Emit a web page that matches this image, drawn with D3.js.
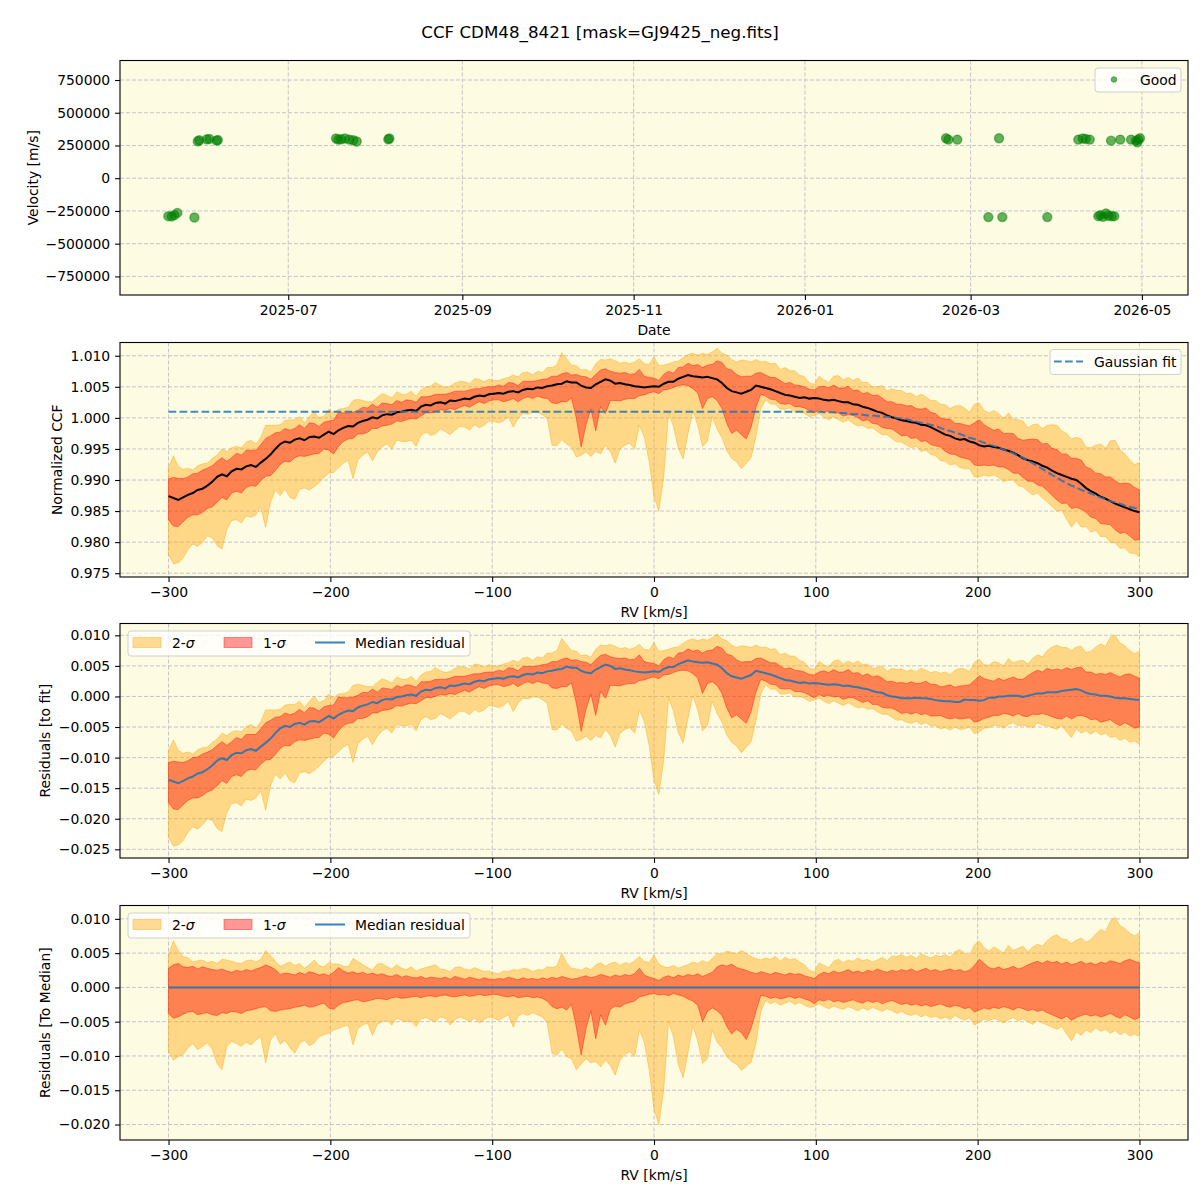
<!DOCTYPE html>
<html>
<head>
<meta charset="utf-8">
<script src="https://cdn.jsdelivr.net/npm/d3@7"></script>
<style>
  body { margin: 0; background: #fff; }
</style>
</head>
<body>
<div id="chart"></div>
<script>
// ---- observations (top panel) ----
const obsDates = [
  '2025-05-19T07:00', '2025-05-20T12:00', '2025-05-21T11:00', '2025-05-22T12:00', '2025-05-28T14:00',
  '2025-05-29T19:00', '2025-05-30T08:00', '2025-06-02T00:00', '2025-06-02T22:00', '2025-06-05T11:00',
  '2025-06-05T22:00', '2025-07-18T00:30', '2025-07-18T20:00', '2025-07-19T19:00', '2025-07-21T05:00',
  '2025-07-22T18:00', '2025-07-24T04:00', '2025-07-25T09:00', '2025-08-05T15:00', '2025-08-06T00:00',
  '2026-02-20T06:00', '2026-02-21T02:00', '2026-02-24T06:30', '2026-03-07T07:30', '2026-03-11T03:00',
  '2026-03-12T07:00', '2026-03-28T07:30', '2026-04-08T08:30', '2026-04-09T22:00', '2026-04-11T00:00',
  '2026-04-12T10:00', '2026-04-15T11:30', '2026-04-16T04:30', '2026-04-17T03:30', '2026-04-18T05:00',
  '2026-04-19T01:00', '2026-04-20T00:00', '2026-04-20T06:00', '2026-04-21T04:00', '2026-04-23T07:30',
  '2026-04-27T03:00', '2026-04-28T21:30', '2026-04-29T08:30', '2026-04-29T17:00', '2026-04-30T07:30'
];
const obsVelocity = [
  -290000, -292000, -282000, -265000, -300000,
  282000, 290000, 297000, 300000, 287000,
  292000, 303000, 295000, 297000, 303000,
  295000, 290000, 280000, 297000, 303000,
  305000, 295000, 295000, -297000, 305000,
  -297000, -297000, 295000, 303000, 300000,
  295000, -290000, -282000, -295000, -269000,
  -287000, 287000, -290000, -290000, 295000,
  295000, 287000, 274000, 295000, 305000
];

// ---- CCF profile, RV grid in km/s ----
const rv = d3.range(-300, 301, 3);

const ccfMedian = [
  0.9874, 0.9871, 0.9868, 0.9872, 0.9876, 0.9879, 0.9884, 0.9886, 0.9891, 0.9897,
  0.9905, 0.9909, 0.9906, 0.9914, 0.9918, 0.9917, 0.9922, 0.9924, 0.9921, 0.9928,
  0.9934, 0.9941, 0.9950, 0.9958, 0.9962, 0.9960, 0.9965, 0.9967, 0.9964, 0.9969,
  0.9970, 0.9968, 0.9973, 0.9978, 0.9974, 0.9980, 0.9984, 0.9987, 0.9986, 0.9992,
  0.9995, 0.9997, 1.0001, 0.9999, 1.0004, 1.0006, 1.0005, 1.0009, 1.0010, 1.0012,
  1.0013, 1.0011, 1.0018, 1.0021, 1.0020, 1.0024, 1.0025, 1.0023, 1.0028, 1.0027,
  1.0029, 1.0031, 1.0030, 1.0034, 1.0036, 1.0035, 1.0038, 1.0039, 1.0040, 1.0039,
  1.0042, 1.0043, 1.0041, 1.0045, 1.0047, 1.0046, 1.0049, 1.0048, 1.0051, 1.0052,
  1.0054, 1.0055, 1.0059, 1.0057, 1.0057, 1.0052, 1.0049, 1.0048, 1.0054, 1.0058,
  1.0062, 1.0060, 1.0055, 1.0056, 1.0054, 1.0053, 1.0051, 1.0050, 1.0049, 1.0050,
  1.0051, 1.0050, 1.0055, 1.0058, 1.0058, 1.0063, 1.0066, 1.0069, 1.0067, 1.0066,
  1.0065, 1.0066, 1.0064, 1.0062, 1.0056, 1.0048, 1.0043, 1.0041, 1.0039, 1.0042,
  1.0045, 1.0052, 1.0050, 1.0048, 1.0046, 1.0043, 1.0040, 1.0037, 1.0036, 1.0034,
  1.0032, 1.0033, 1.0031, 1.0032, 1.0031, 1.0029, 1.0028, 1.0029, 1.0027, 1.0025,
  1.0025, 1.0022, 1.0021, 1.0018, 1.0016, 1.0013, 1.0010, 1.0008, 1.0004, 1.0001,
  0.9999, 0.9996, 0.9995, 0.9993, 0.9992, 0.9989, 0.9988, 0.9985, 0.9981, 0.9977,
  0.9973, 0.9971, 0.9967, 0.9965, 0.9966, 0.9962, 0.9960, 0.9956, 0.9954, 0.9955,
  0.9953, 0.9952, 0.9949, 0.9947, 0.9944, 0.9940, 0.9935, 0.9932, 0.9930, 0.9927,
  0.9923, 0.9920, 0.9915, 0.9911, 0.9908, 0.9905, 0.9902, 0.9900, 0.9894, 0.9887,
  0.9882, 0.9878, 0.9873, 0.9870, 0.9866, 0.9862, 0.9859, 0.9856, 0.9853, 0.9850,
  0.9848
];

const ccfFit = [
  1.0010, 1.0010, 1.0010, 1.0010, 1.0010, 1.0010, 1.0010, 1.0010, 1.0010, 1.0010,
  1.0010, 1.0010, 1.0010, 1.0010, 1.0010, 1.0010, 1.0010, 1.0010, 1.0010, 1.0010,
  1.0010, 1.0010, 1.0010, 1.0010, 1.0010, 1.0010, 1.0010, 1.0010, 1.0010, 1.0010,
  1.0010, 1.0010, 1.0010, 1.0010, 1.0010, 1.0010, 1.0010, 1.0010, 1.0010, 1.0010,
  1.0010, 1.0010, 1.0010, 1.0010, 1.0010, 1.0010, 1.0010, 1.0010, 1.0010, 1.0010,
  1.0010, 1.0010, 1.0010, 1.0010, 1.0010, 1.0010, 1.0010, 1.0010, 1.0010, 1.0010,
  1.0010, 1.0010, 1.0010, 1.0010, 1.0010, 1.0010, 1.0010, 1.0010, 1.0010, 1.0010,
  1.0010, 1.0010, 1.0010, 1.0010, 1.0010, 1.0010, 1.0010, 1.0010, 1.0010, 1.0010,
  1.0010, 1.0010, 1.0010, 1.0010, 1.0010, 1.0010, 1.0010, 1.0010, 1.0010, 1.0010,
  1.0010, 1.0010, 1.0010, 1.0010, 1.0010, 1.0010, 1.0010, 1.0010, 1.0010, 1.0010,
  1.0010, 1.0010, 1.0010, 1.0010, 1.0010, 1.0010, 1.0010, 1.0010, 1.0010, 1.0010,
  1.0010, 1.0010, 1.0010, 1.0010, 1.0010, 1.0010, 1.0010, 1.0010, 1.0010, 1.0010,
  1.0010, 1.0010, 1.0010, 1.0010, 1.0010, 1.0010, 1.0010, 1.0010, 1.0010, 1.0010,
  1.0010, 1.0010, 1.0010, 1.0010,
  1.0010, 1.0009, 1.0009, 1.0009, 1.0008, 1.0008, 1.0007, 1.0006, 1.0006, 1.0005,
  1.0004, 1.0004, 1.0003, 1.0002, 1.0002, 1.0001, 1.0000, 0.9999, 0.9998, 0.9996,
  0.9994, 0.9992, 0.9991, 0.9989, 0.9987, 0.9984, 0.9981, 0.9979, 0.9976, 0.9974,
  0.9971, 0.9968, 0.9966, 0.9963, 0.9960, 0.9957, 0.9955, 0.9952, 0.9949, 0.9946,
  0.9943, 0.9939, 0.9936, 0.9931, 0.9927, 0.9922, 0.9918, 0.9913, 0.9908, 0.9904,
  0.9899, 0.9895, 0.9891, 0.9888, 0.9884, 0.9881, 0.9878, 0.9875, 0.9872, 0.9869,
  0.9866, 0.9864, 0.9862, 0.9859, 0.9857, 0.9855, 0.9854
];

// band edges, as offsets from the median (bottom panel)
const sig2Upper = [
  0.0047, 0.0068, 0.0054, 0.0045, 0.0043, 0.0037, 0.0039, 0.0040, 0.0036, 0.0038,
  0.0035, 0.0041, 0.0040, 0.0038, 0.0036, 0.0035, 0.0039, 0.0040, 0.0037, 0.0041,
  0.0054, 0.0047, 0.0038, 0.0031, 0.0034, 0.0037, 0.0032, 0.0035, 0.0028, 0.0033,
  0.0040, 0.0032, 0.0030, 0.0036, 0.0034, 0.0034, 0.0031, 0.0030, 0.0042, 0.0038,
  0.0033, 0.0029, 0.0025, 0.0034, 0.0035, 0.0030, 0.0027, 0.0033, 0.0028, 0.0026,
  0.0030, 0.0024, 0.0027, 0.0029, 0.0031, 0.0033, 0.0027, 0.0026, 0.0023, 0.0029,
  0.0030, 0.0027, 0.0025, 0.0029, 0.0026, 0.0023, 0.0024, 0.0021, 0.0020, 0.0024,
  0.0023, 0.0026, 0.0025, 0.0028, 0.0027, 0.0023, 0.0026, 0.0025, 0.0030, 0.0029,
  0.0031, 0.0050, 0.0036, 0.0028, 0.0027, 0.0025, 0.0029, 0.0026, 0.0033, 0.0036,
  0.0031, 0.0035, 0.0037, 0.0032, 0.0036, 0.0034, 0.0039, 0.0045, 0.0038, 0.0036,
  0.0047, 0.0034, 0.0030, 0.0029, 0.0032, 0.0028, 0.0031, 0.0033, 0.0037, 0.0035,
  0.0039, 0.0036, 0.0042, 0.0050, 0.0048, 0.0053, 0.0051, 0.0049, 0.0054, 0.0050,
  0.0045, 0.0042, 0.0040, 0.0043, 0.0041, 0.0045, 0.0038, 0.0044, 0.0040, 0.0042,
  0.0037, 0.0033, 0.0025, 0.0022, 0.0036, 0.0032, 0.0029, 0.0038, 0.0041, 0.0036,
  0.0040, 0.0038, 0.0043, 0.0039, 0.0041, 0.0037, 0.0040, 0.0044, 0.0039, 0.0046,
  0.0045, 0.0048, 0.0044, 0.0047, 0.0042, 0.0049, 0.0046, 0.0043, 0.0047, 0.0045,
  0.0048, 0.0044, 0.0052, 0.0055, 0.0050, 0.0047, 0.0062, 0.0068, 0.0058, 0.0053,
  0.0059, 0.0055, 0.0050, 0.0061, 0.0054, 0.0057, 0.0060, 0.0052, 0.0059, 0.0063,
  0.0060, 0.0068, 0.0074, 0.0077, 0.0071, 0.0070, 0.0064, 0.0069, 0.0072, 0.0066,
  0.0070, 0.0078, 0.0085, 0.0081, 0.0097, 0.0102, 0.0090, 0.0086, 0.0079, 0.0075,
  0.0080
];
const sig1Upper = [
  0.0028, 0.0033, 0.0035, 0.0030, 0.0029, 0.0031, 0.0027, 0.0030, 0.0028, 0.0026,
  0.0025, 0.0027, 0.0024, 0.0022, 0.0025, 0.0023, 0.0026, 0.0024, 0.0027, 0.0029,
  0.0033, 0.0030, 0.0026, 0.0019, 0.0021, 0.0020, 0.0018, 0.0022, 0.0019, 0.0023,
  0.0021, 0.0018, 0.0020, 0.0017, 0.0022, 0.0029, 0.0024, 0.0021, 0.0023, 0.0020,
  0.0022, 0.0019, 0.0021, 0.0018, 0.0020, 0.0017, 0.0016, 0.0019, 0.0015, 0.0017,
  0.0015, 0.0014, 0.0016, 0.0013, 0.0015, 0.0014, 0.0013, 0.0015, 0.0012, 0.0016,
  0.0014, 0.0012, 0.0015, 0.0013, 0.0011, 0.0014, 0.0012, 0.0011, 0.0013, 0.0012,
  0.0015, 0.0013, 0.0011, 0.0014, 0.0012, 0.0013, 0.0011, 0.0014, 0.0012, 0.0015,
  0.0013, 0.0016, 0.0014, 0.0012, 0.0013, 0.0015, 0.0017, 0.0014, 0.0016, 0.0019,
  0.0017, 0.0015, 0.0018, 0.0016, 0.0019, 0.0017, 0.0020, 0.0028, 0.0018, 0.0015,
  0.0013, 0.0010, 0.0015, 0.0017, 0.0014, 0.0018, 0.0016, 0.0019, 0.0017, 0.0020,
  0.0016, 0.0019, 0.0022, 0.0030, 0.0033, 0.0031, 0.0034, 0.0029, 0.0027, 0.0025,
  0.0022, 0.0020, 0.0023, 0.0021, 0.0019, 0.0022, 0.0020, 0.0018, 0.0021, 0.0019,
  0.0020, 0.0017, 0.0015, 0.0013, 0.0019, 0.0022, 0.0020, 0.0024, 0.0021, 0.0023,
  0.0026, 0.0022, 0.0024, 0.0021, 0.0025, 0.0023, 0.0027, 0.0024, 0.0022, 0.0025,
  0.0023, 0.0026, 0.0024, 0.0027, 0.0023, 0.0025, 0.0028, 0.0024, 0.0026, 0.0023,
  0.0025, 0.0027, 0.0024, 0.0026, 0.0023, 0.0025, 0.0032, 0.0041, 0.0035, 0.0029,
  0.0027, 0.0030, 0.0026, 0.0028, 0.0031, 0.0027, 0.0029, 0.0033, 0.0036, 0.0038,
  0.0035, 0.0039, 0.0036, 0.0038, 0.0034, 0.0037, 0.0033, 0.0035, 0.0038, 0.0034,
  0.0036, 0.0033, 0.0037, 0.0035, 0.0039, 0.0037, 0.0035, 0.0039, 0.0041, 0.0038,
  0.0036
];
const sig1Lower = [
  -0.0038, -0.0045, -0.0043, -0.0039, -0.0036, -0.0035, -0.0040, -0.0038, -0.0037, -0.0040,
  -0.0041, -0.0037, -0.0038, -0.0035, -0.0036, -0.0038, -0.0034, -0.0033, -0.0031, -0.0029,
  -0.0028, -0.0034, -0.0035, -0.0033, -0.0032, -0.0031, -0.0029, -0.0028, -0.0026, -0.0029,
  -0.0028, -0.0025, -0.0023, -0.0030, -0.0032, -0.0026, -0.0022, -0.0021, -0.0019, -0.0018,
  -0.0021, -0.0020, -0.0018, -0.0016, -0.0017, -0.0018, -0.0015, -0.0014, -0.0016, -0.0015,
  -0.0014, -0.0013, -0.0015, -0.0013, -0.0012, -0.0014, -0.0012, -0.0011, -0.0013, -0.0014,
  -0.0012, -0.0011, -0.0013, -0.0012, -0.0010, -0.0012, -0.0011, -0.0010, -0.0011, -0.0013,
  -0.0014, -0.0012, -0.0015, -0.0014, -0.0013, -0.0015, -0.0014, -0.0016, -0.0020, -0.0028,
  -0.0031, -0.0029, -0.0033, -0.0025, -0.0058, -0.0099, -0.0060, -0.0034, -0.0075, -0.0040,
  -0.0055, -0.0032, -0.0027, -0.0029, -0.0024, -0.0022, -0.0020, -0.0014, -0.0012, -0.0010,
  -0.0009, -0.0011, -0.0010, -0.0012, -0.0009, -0.0011, -0.0013, -0.0017, -0.0020, -0.0026,
  -0.0050, -0.0035, -0.0030, -0.0034, -0.0041, -0.0057, -0.0068, -0.0061, -0.0066, -0.0076,
  -0.0060, -0.0035, -0.0012, -0.0013, -0.0016, -0.0014, -0.0017, -0.0015, -0.0013, -0.0016,
  -0.0014, -0.0017, -0.0019, -0.0024, -0.0018, -0.0020, -0.0017, -0.0021, -0.0019, -0.0022,
  -0.0020, -0.0018, -0.0021, -0.0023, -0.0019, -0.0022, -0.0020, -0.0024, -0.0021, -0.0019,
  -0.0022, -0.0025, -0.0023, -0.0026, -0.0024, -0.0027, -0.0025, -0.0028, -0.0026, -0.0024,
  -0.0027, -0.0029, -0.0026, -0.0028, -0.0031, -0.0029, -0.0036, -0.0033, -0.0030, -0.0032,
  -0.0029, -0.0031, -0.0028, -0.0030, -0.0033, -0.0029, -0.0031, -0.0034, -0.0032, -0.0035,
  -0.0033, -0.0037, -0.0040, -0.0043, -0.0046, -0.0042, -0.0048, -0.0044, -0.0041, -0.0039,
  -0.0042, -0.0040, -0.0043, -0.0041, -0.0038, -0.0042, -0.0045, -0.0040, -0.0043, -0.0047,
  -0.0044
];
const sig2Lower = [
  -0.0094, -0.0106, -0.0101, -0.0098, -0.0088, -0.0082, -0.0091, -0.0086, -0.0081, -0.0090,
  -0.0111, -0.0120, -0.0086, -0.0079, -0.0082, -0.0086, -0.0080, -0.0084, -0.0077, -0.0072,
  -0.0110, -0.0077, -0.0067, -0.0083, -0.0077, -0.0088, -0.0096, -0.0082, -0.0077, -0.0085,
  -0.0081, -0.0072, -0.0069, -0.0067, -0.0062, -0.0060, -0.0057, -0.0055, -0.0084, -0.0060,
  -0.0055, -0.0052, -0.0070, -0.0054, -0.0050, -0.0048, -0.0055, -0.0045, -0.0048, -0.0050,
  -0.0049, -0.0057, -0.0046, -0.0044, -0.0048, -0.0050, -0.0043, -0.0045, -0.0055, -0.0047,
  -0.0043, -0.0046, -0.0050, -0.0045, -0.0052, -0.0047, -0.0043, -0.0045, -0.0048, -0.0044,
  -0.0040, -0.0058, -0.0042, -0.0038, -0.0041, -0.0037, -0.0040, -0.0043, -0.0052, -0.0096,
  -0.0099, -0.0090, -0.0101, -0.0104, -0.0120, -0.0112, -0.0104, -0.0110, -0.0108, -0.0116,
  -0.0106, -0.0114, -0.0128, -0.0106, -0.0098, -0.0094, -0.0101, -0.0062, -0.0080, -0.0120,
  -0.0178, -0.0200, -0.0150, -0.0050, -0.0072, -0.0112, -0.0132, -0.0095, -0.0056, -0.0078,
  -0.0111, -0.0104, -0.0062, -0.0080, -0.0088, -0.0101, -0.0108, -0.0112, -0.0121, -0.0115,
  -0.0109, -0.0082, -0.0035, -0.0019, -0.0024, -0.0021, -0.0026, -0.0023, -0.0020, -0.0025,
  -0.0022, -0.0026, -0.0029, -0.0028, -0.0024, -0.0028, -0.0031, -0.0027, -0.0030, -0.0032,
  -0.0028, -0.0031, -0.0034, -0.0030, -0.0033, -0.0029, -0.0032, -0.0035, -0.0031, -0.0034,
  -0.0038, -0.0035, -0.0039, -0.0041, -0.0038, -0.0043, -0.0040, -0.0044, -0.0042, -0.0046,
  -0.0043, -0.0047, -0.0041, -0.0045, -0.0048, -0.0044, -0.0055, -0.0051, -0.0046, -0.0049,
  -0.0045, -0.0048, -0.0052, -0.0047, -0.0044, -0.0049, -0.0046, -0.0050, -0.0054, -0.0048,
  -0.0052, -0.0055, -0.0058, -0.0061, -0.0057, -0.0068, -0.0078, -0.0065, -0.0070, -0.0062,
  -0.0066, -0.0059, -0.0064, -0.0061, -0.0067, -0.0063, -0.0069, -0.0065, -0.0071, -0.0068,
  -0.0072
];

// ---- ticks ----
const dateTicks = ['2025-07', '2025-09', '2025-11', '2026-01', '2026-03', '2026-05'];
const velTicks = [-750000, -500000, -250000, 0, 250000, 500000, 750000];
const rvTicks = [-300, -200, -100, 0, 100, 200, 300];
const ccfTicks = [0.975, 0.980, 0.985, 0.990, 0.995, 1.000, 1.005, 1.010];
const resFitTicks = [-0.025, -0.020, -0.015, -0.010, -0.005, 0.000, 0.005, 0.010];
const resMedTicks = [-0.020, -0.015, -0.010, -0.005, 0.000, 0.005, 0.010];

[ccfMedian, ccfFit, sig2Upper, sig1Upper, sig1Lower, sig2Lower].forEach((a, i) => {
  if (a.length !== rv.length) console.warn('array', i, 'has', a.length, 'values');
});

// ---- layout ----
const W = 1200, H = 1200;
const left = 120, right = 1188;
const FONT = '"DejaVu Sans", sans-serif';
const FS = 13.9;
const axBg = '#fdfbe2';
const gridColor = '#c4c4cc';
const blue = '#1f77b4';

const svg = d3.select('#chart').append('svg')
  .attr('width', W).attr('height', H)
  .style('font-family', FONT);
svg.append('rect').attr('width', W).attr('height', H).attr('fill', '#fff');

svg.append('text')
  .attr('x', 600).attr('y', 38)
  .attr('text-anchor', 'middle')
  .attr('font-size', 16.7)
  .text('CCF CDM48_8421 [mask=GJ9425_neg.fits]');

function makePanel(opts) {
  const { top, bottom, x, yDomain, yTicks, yFormat, xTicks, xFormat, xLabel, yLabel, yLabelX } = opts;
  const y = d3.scaleLinear().domain(yDomain).range([bottom, top]);
  const g = svg.append('g');

  g.append('rect')
    .attr('x', left).attr('y', top)
    .attr('width', right - left).attr('height', bottom - top)
    .attr('fill', axBg);

  const grid = g.append('g')
    .attr('stroke', gridColor).attr('stroke-width', 1)
    .attr('stroke-dasharray', '4,2');
  grid.selectAll('.gx').data(xTicks).join('line')
    .attr('x1', d => x(d)).attr('x2', d => x(d))
    .attr('y1', top).attr('y2', bottom);
  grid.selectAll('.gy').data(yTicks).join('line')
    .attr('x1', left).attr('x2', right)
    .attr('y1', d => y(d)).attr('y2', d => y(d));

  const plot = g.append('g');

  function finish() {
    const styleAxis = a => {
      a.select('.domain').remove();
      a.selectAll('line').attr('stroke', '#000').attr('stroke-width', 1.1);
      a.selectAll('text').attr('font-size', FS).attr('fill', '#000').style('font-family', FONT);
    };
    g.append('g')
      .attr('transform', `translate(0,${bottom})`)
      .call(d3.axisBottom(x).tickValues(xTicks).tickFormat(xFormat).tickSize(4.9).tickPadding(5.5))
      .call(styleAxis);
    g.append('g')
      .attr('transform', `translate(${left},0)`)
      .call(d3.axisLeft(y).tickValues(yTicks).tickFormat(yFormat).tickSize(4.9).tickPadding(4.9))
      .call(styleAxis);

    g.append('rect')
      .attr('x', left).attr('y', top)
      .attr('width', right - left).attr('height', bottom - top)
      .attr('fill', 'none').attr('stroke', '#000').attr('stroke-width', 1.1);

    g.append('text')
      .attr('x', (left + right) / 2).attr('y', bottom + 40)
      .attr('text-anchor', 'middle').attr('font-size', FS)
      .text(xLabel);
    g.append('text')
      .attr('transform', `translate(${yLabelX},${(top + bottom) / 2}) rotate(-90)`)
      .attr('text-anchor', 'middle').attr('dy', '0.35em').attr('font-size', FS)
      .text(yLabel);
  }
  return { plot, y, finish, g };
}

// ---- panel 1: velocities vs date ----
const parseDate = d3.utcParse('%Y-%m-%dT%H:%M');
const parseMonth = d3.utcParse('%Y-%m');
const xDate = d3.scaleUtc()
  .domain([Date.UTC(2025, 4, 2, 2), Date.UTC(2026, 4, 17, 10)])
  .range([left, right]);

const p1 = makePanel({
  top: 60.5, bottom: 295, x: xDate,
  yDomain: [-892000, 899000], yTicks: velTicks, yFormat: d3.format('d'),
  xTicks: dateTicks.map(parseMonth), xFormat: d3.utcFormat('%Y-%m'),
  xLabel: 'Date', yLabel: 'Velocity [m/s]', yLabelX: 33
});
p1.plot.selectAll('circle')
  .data(obsDates.map((d, i) => ({ t: parseDate(d), v: obsVelocity[i] })))
  .join('circle')
  .attr('cx', d => xDate(d.t))
  .attr('cy', d => p1.y(d.v))
  .attr('r', 4.5)
  .attr('fill', '#008000').attr('fill-opacity', 0.6)
  .attr('stroke', '#008000').attr('stroke-opacity', 0.5).attr('stroke-width', 1.4);
p1.finish();

// legend
{
  const lg = svg.append('g');
  lg.append('rect').attr('x', 1095).attr('y', 68).attr('width', 86).attr('height', 24).attr('rx', 3)
    .attr('fill', '#fff').attr('fill-opacity', 0.8).attr('stroke', '#d0d0d0');
  lg.append('circle').attr('cx', 1114).attr('cy', 79.5).attr('r', 2.8)
    .attr('fill', '#008000').attr('fill-opacity', 0.6)
    .attr('stroke', '#008000').attr('stroke-opacity', 0.5);
  lg.append('text').attr('x', 1140).attr('y', 84.5).attr('font-size', FS).text('Good');
}

// ---- RV panels ----
const xRv = d3.scaleLinear().domain([-330, 330]).range([left, right]);
const rows = rv.map((v, i) => ({
  rv: v, med: ccfMedian[i], fit: ccfFit[i],
  up2: sig2Upper[i], up1: sig1Upper[i], lo1: sig1Lower[i], lo2: sig2Lower[i]
}));
const fmt3 = d3.format('.3f');

function drawBands(p, base) {
  const a2 = d3.area().x(d => xRv(d.rv)).y0(d => p.y(base(d) + d.lo2)).y1(d => p.y(base(d) + d.up2));
  const a1 = d3.area().x(d => xRv(d.rv)).y0(d => p.y(base(d) + d.lo1)).y1(d => p.y(base(d) + d.up1));
  p.plot.append('path').datum(rows).attr('d', a2)
    .attr('fill', 'orange').attr('fill-opacity', 0.4)
    .attr('stroke', 'orange').attr('stroke-opacity', 0.4).attr('stroke-width', 1);
  p.plot.append('path').datum(rows).attr('d', a1)
    .attr('fill', 'red').attr('fill-opacity', 0.4)
    .attr('stroke', 'red').attr('stroke-opacity', 0.4).attr('stroke-width', 1);
}

function sigmaLegend(top) {
  const lg = svg.append('g');
  lg.append('rect').attr('x', 128).attr('y', top).attr('width', 342).attr('height', 25).attr('rx', 3)
    .attr('fill', '#fff').attr('fill-opacity', 0.8).attr('stroke', '#d0d0d0');
  const items = [
    { x: 133, label: '2-', color: 'orange' },
    { x: 224, label: '1-', color: 'red' }
  ];
  items.forEach(it => {
    lg.append('rect').attr('x', it.x).attr('y', top + 6.5).attr('width', 28).attr('height', 10)
      .attr('fill', it.color).attr('fill-opacity', 0.4)
      .attr('stroke', it.color).attr('stroke-opacity', 0.4);
    const t = lg.append('text').attr('x', it.x + 39).attr('y', top + 17).attr('font-size', FS);
    t.append('tspan').text(it.label);
    t.append('tspan').attr('font-style', 'italic').text('σ');
  });
  lg.append('line').attr('x1', 315).attr('x2', 345).attr('y1', top + 11.5).attr('y2', top + 11.5)
    .attr('stroke', blue).attr('stroke-opacity', 0.9).attr('stroke-width', 2);
  lg.append('text').attr('x', 355).attr('y', top + 17).attr('font-size', FS).text('Median residual');
}

// panel 2: normalized CCF
const p2 = makePanel({
  top: 342.5, bottom: 577, x: xRv,
  yDomain: [0.97439, 1.01213], yTicks: ccfTicks, yFormat: fmt3,
  xTicks: rvTicks, xFormat: d3.format('d'),
  xLabel: 'RV [km/s]', yLabel: 'Normalized CCF', yLabelX: 57
});
drawBands(p2, d => d.med);
p2.plot.append('path').datum(rows)
  .attr('d', d3.line().x(d => xRv(d.rv)).y(d => p2.y(d.med)))
  .attr('fill', 'none').attr('stroke', '#000').attr('stroke-width', 2);
p2.plot.append('path').datum(rows)
  .attr('d', d3.line().x(d => xRv(d.rv)).y(d => p2.y(d.fit)))
  .attr('fill', 'none').attr('stroke', blue).attr('stroke-opacity', 0.85)
  .attr('stroke-width', 2).attr('stroke-dasharray', '7.7,3.3');
p2.finish();
{
  const lg = svg.append('g');
  lg.append('rect').attr('x', 1050).attr('y', 349.5).attr('width', 131).attr('height', 25).attr('rx', 3)
    .attr('fill', '#fff').attr('fill-opacity', 0.8).attr('stroke', '#d0d0d0');
  lg.append('line').attr('x1', 1054).attr('x2', 1083).attr('y1', 361.5).attr('y2', 361.5)
    .attr('stroke', blue).attr('stroke-opacity', 0.85).attr('stroke-width', 2)
    .attr('stroke-dasharray', '7.7,3.3');
  lg.append('text').attr('x', 1094).attr('y', 366.5).attr('font-size', FS).text('Gaussian fit');
}

// panel 3: residuals to the fit
const p3 = makePanel({
  top: 623.5, bottom: 858, x: xRv,
  yDomain: [-0.02642, 0.01193], yTicks: resFitTicks, yFormat: fmt3,
  xTicks: rvTicks, xFormat: d3.format('d'),
  xLabel: 'RV [km/s]', yLabel: 'Residuals [to fit]', yLabelX: 45
});
drawBands(p3, d => d.med - d.fit);
p3.plot.append('path').datum(rows)
  .attr('d', d3.line().x(d => xRv(d.rv)).y(d => p3.y(d.med - d.fit)))
  .attr('fill', 'none').attr('stroke', blue).attr('stroke-opacity', 0.9).attr('stroke-width', 2);
p3.finish();
sigmaLegend(631);

// panel 4: residuals to the median
const p4 = makePanel({
  top: 905.5, bottom: 1140, x: xRv,
  yDomain: [-0.02226, 0.01195], yTicks: resMedTicks, yFormat: fmt3,
  xTicks: rvTicks, xFormat: d3.format('d'),
  xLabel: 'RV [km/s]', yLabel: 'Residuals [To Median]', yLabelX: 45
});
drawBands(p4, d => 0);
p4.plot.append('path').datum(rows)
  .attr('d', d3.line().x(d => xRv(d.rv)).y(d => p4.y(d.med - d.med)))
  .attr('fill', 'none').attr('stroke', blue).attr('stroke-opacity', 0.9).attr('stroke-width', 2);
p4.finish();
sigmaLegend(913);
</script>
</body>
</html>
